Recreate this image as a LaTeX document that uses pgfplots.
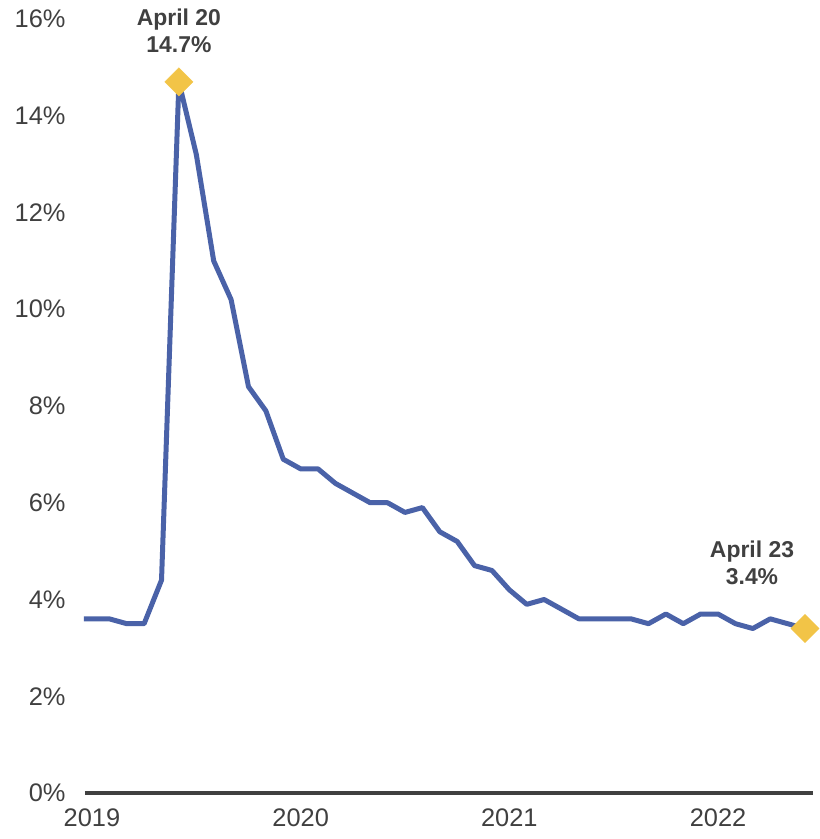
\documentclass[border=0pt]{standalone}
\usepackage{pgfplots}
\pgfplotsset{compat=1.18}
\usepackage{fontspec}
\setmainfont{Liberation Sans}
\definecolor{lineblue}{HTML}{4A62A8}
\definecolor{gold}{HTML}{F2C447}
\definecolor{txt}{HTML}{404040}
\begin{document}
\begin{tikzpicture}
\begin{axis}[
  scale only axis,
  width=728bp, height=774bp,
  xmin=-0.40, xmax=41.46,
  ymin=0, ymax=16,
  clip=false,
  axis line style={draw=none},
  axis x line*=bottom,
  axis y line*=left,
  ytick={0,2,4,6,8,10,12,14,16},
  yticklabels={0\%,2\%,4\%,6\%,8\%,10\%,12\%,14\%,16\%},
  xtick={0,12,24,36},
  xticklabels={2019,2020,2021,2022},
  major tick length=0pt,
  tick style={draw=none},
  ticklabel style={font=\fontsize{25.5}{28}\selectfont, text=txt},
  every y tick label/.append style={anchor=east, xshift=-16bp},
  every x tick label/.append style={anchor=north, yshift=-12bp},
]
\path (rel axis cs:0,0) ++(-85bp,-46bp) coordinate (bbA);
\path (rel axis cs:1,1) ++(4bp,19bp) coordinate (bbB);
\path (bbA) rectangle (bbB);
\draw[txt, line width=4bp] (axis cs:-0.40,0) -- (axis cs:41.46,0);
\addplot[lineblue, line width=5bp, line join=round, mark=none] coordinates {
(-0.46,3.6)(0,3.6)(1,3.6)(2,3.5)(3,3.5)(4,4.4)(5,14.7)(6,13.2)(7,11.0)(8,10.2)(9,8.4)
(10,7.9)(11,6.9)(12,6.7)(13,6.7)(14,6.4)(15,6.2)(16,6.0)(17,6.0)(18,5.8)(19,5.9)
(20,5.4)(21,5.2)(22,4.7)(23,4.6)(24,4.2)(25,3.9)(26,4.0)(27,3.8)(28,3.6)(29,3.6)
(30,3.6)(31,3.6)(32,3.5)(33,3.7)(34,3.5)(35,3.7)(36,3.7)(37,3.5)(38,3.4)(39,3.6)
(40,3.5)(41,3.4)
};
\addplot[only marks, mark=square*, mark size=10bp, mark options={rotate=45, fill=gold, draw=gold}] coordinates {(5,14.7)(41,3.4)};
\node[anchor=south, align=center, font=\fontsize{23}{27}\selectfont\bfseries, text=txt, yshift=26bp] at (axis cs:5,14.7) {April 20\\14.7\%};
\node[anchor=south, align=center, font=\fontsize{23}{27}\selectfont\bfseries, text=txt, yshift=40bp, xshift=-53bp] at (axis cs:41,3.4) {April 23\\3.4\%};
\end{axis}
\end{tikzpicture}
\end{document}
